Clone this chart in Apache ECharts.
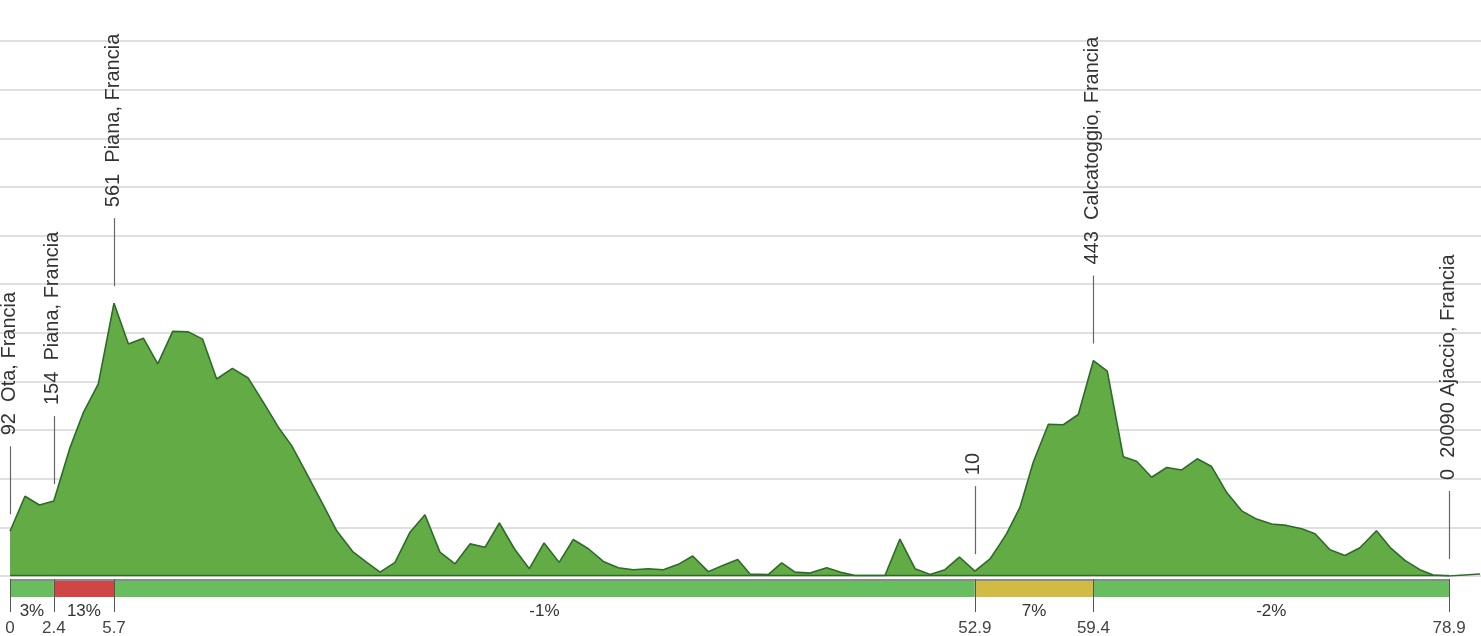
<!DOCTYPE html>
<html>
<head>
<meta charset="utf-8">
<script src="https://cdn.jsdelivr.net/npm/echarts@6/dist/echarts.min.js"></script>
<style>html,body{margin:0;padding:0;background:#fff;}#c{width:1481px;height:636px;}</style>
</head>
<body>
<div id="c"></div>
<script>
// Elevation profile (km, m)
const distKm = [0,0.82,1.61,2.4,3.29,4.02,4.84,5.7,6.49,7.31,8.1,8.92,9.78,10.56,11.33,12.19,13.06,13.89,14.71,15.44,16.17,16.99,17.91,18.82,19.56,20.29,21.11,21.93,22.75,23.57,24.4,25.22,26.04,26.83,27.65,28.47,29.28,30.11,30.88,31.71,32.53,33.35,34.17,34.99,35.82,36.64,37.43,38.28,39.11,39.9,40.57,41.57,42.31,43.04,43.86,44.78,45.5,46.33,47.97,48.79,49.62,50.44,51.26,52.05,52.9,53.73,54.28,54.64,55.37,56.1,56.93,57.75,58.57,59.4,60.16,61.04,61.77,62.59,63.42,64.24,65.09,65.88,66.7,67.53,68.35,69.17,69.99,70.82,71.55,72.37,73.19,74.01,74.92,75.66,76.48,77.3,78.03,78.9,80.6];
const elevM = [92,164,146,154,264,336,395,561,477,489,436,503,502,487,405,427,407,357,306,268,217,159,93,49,28,8,28,90,126,49,25,66,59,109,56,15,68,28,75,56,30,17,13,15,13,24,41,9,22,34,4,3,27,8,6,17,8,1,1,76,15,3,13,39,10,35,66,87,141,234,312,311,332,443,421,245,236,203,223,218,241,225,172,134,117,107,104,97,87,54,42,58,93,59,32,13,2,0,4];

// Waypoints
const markerKm = [0, 2.4, 5.7, 52.9, 59.4, 78.9];
const markerElev = [92, 154, 561, 10, 443, 0];
const markerNames = ['Ota, Francia', 'Piana, Francia', 'Piana, Francia', '', 'Calcatoggio, Francia', '20090 Ajaccio, Francia'];

// Gradient segments
const segStart = [0, 2.4, 5.7, 52.9, 59.4];
const segEnd = [2.4, 5.7, 52.9, 59.4, 78.9];
const segGrade = [3, 13, -1, 7, -2];

// Distance tick labels
const tickKm = [0, 2.4, 5.7, 52.9, 59.4, 78.9];
const tickLabels = ['0', '2.4', '5.7', '52.9', '59.4', '78.9'];

function gradeColor(g) {
  const a = Math.abs(g);
  if (a >= 10) return '#d04646';
  if (a >= 5) return '#d2bb44';
  return '#68bd5e';
}

const chart = echarts.init(document.getElementById('c'), null, {renderer: 'canvas'});
const profile = distKm.map((d, i) => [d, elevM[i]]);
const markers = markerKm.map((d, i) => [d, markerElev[i], markerNames[i] ? markerElev[i] + '  ' + markerNames[i] : String(markerElev[i])]);
const segs = segStart.map((s, i) => [s, segEnd[i], segGrade[i]]);
const ticks = tickKm.map((d, i) => [d, 0, tickLabels[i]]);
const FONT = 'Liberation Sans, Arial, sans-serif';

chart.setOption({
  animation: false,
  grid: {left: 0, right: 0, top: 41, bottom: 60},
  xAxis: {type: 'value', min: -0.55, max: 80.65, show: false},
  yAxis: {
    type: 'value', min: 0, max: 1100, interval: 100,
    axisLine: {show: false}, axisTick: {show: false}, axisLabel: {show: false},
    splitLine: {show: true, lineStyle: {color: '#d6d6d6', width: 1.5}}
  },
  series: [
    {
      type: 'line', data: profile, symbol: 'none', z: 3,
      lineStyle: {color: '#2e6b2a', width: 1.6},
      areaStyle: {color: '#63ab45', opacity: 1}
    },
    {
      type: 'custom', data: segs, clip: false, z: 4,
      renderItem: function (params, api) {
        const p0 = api.coord([api.value(0), 0]);
        const p1 = api.coord([api.value(1), 0]);
        const g = api.value(2);
        const top = p0[1] + 4;
        return {
          type: 'group',
          children: [
            {type: 'line', shape: {x1: p0[0], y1: p0[1] - 0.5, x2: p1[0], y2: p1[1] - 0.5}, style: {stroke: '#2e6b2a', lineWidth: 1.5}},
            {type: 'rect', shape: {x: p0[0], y: top, width: p1[0] - p0[0], height: 17}, style: {fill: gradeColor(g)}},
            {type: 'line', shape: {x1: p0[0], y1: top, x2: p1[0], y2: top}, style: {stroke: '#8a8a8a', lineWidth: 2}},
            {type: 'text', x: (p0[0] + p1[0]) / 2, y: top + 31, style: {text: g + '%', fill: '#333', font: '17px ' + FONT, textAlign: 'center', textVerticalAlign: 'middle'}}
          ]
        };
      }
    },
    {
      type: 'custom', data: ticks, clip: false, z: 5,
      renderItem: function (params, api) {
        const p = api.coord([api.value(0), 0]);
        const x = Math.round(p[0]) + 0.5;
        return {
          type: 'group',
          children: [
            {type: 'line', shape: {x1: x, y1: p[1] + 3, x2: x, y2: p[1] + 36}, style: {stroke: '#555', lineWidth: 1}},
            {type: 'text', x: p[0], y: p[1] + 52, style: {text: api.value(2), fill: '#444', font: '17px ' + FONT, textAlign: 'center', textVerticalAlign: 'middle'}}
          ]
        };
      }
    },
    {
      type: 'custom', data: markers, clip: false, z: 6,
      renderItem: function (params, api) {
        const p = api.coord([api.value(0), api.value(1)]);
        const x = Math.round(p[0]) + 0.5;
        return {
          type: 'group',
          children: [
            {type: 'line', shape: {x1: x, y1: p[1] - 17, x2: x, y2: p[1] - 85}, style: {stroke: '#666', lineWidth: 1.2}},
            {type: 'text', x: p[0] - 1, y: p[1] - 96, rotation: Math.PI / 2,
              style: {text: api.value(2), fill: '#333', font: '20px ' + FONT, textAlign: 'left', textVerticalAlign: 'middle'}}
          ]
        };
      }
    }
  ]
});
</script>
</body>
</html>
